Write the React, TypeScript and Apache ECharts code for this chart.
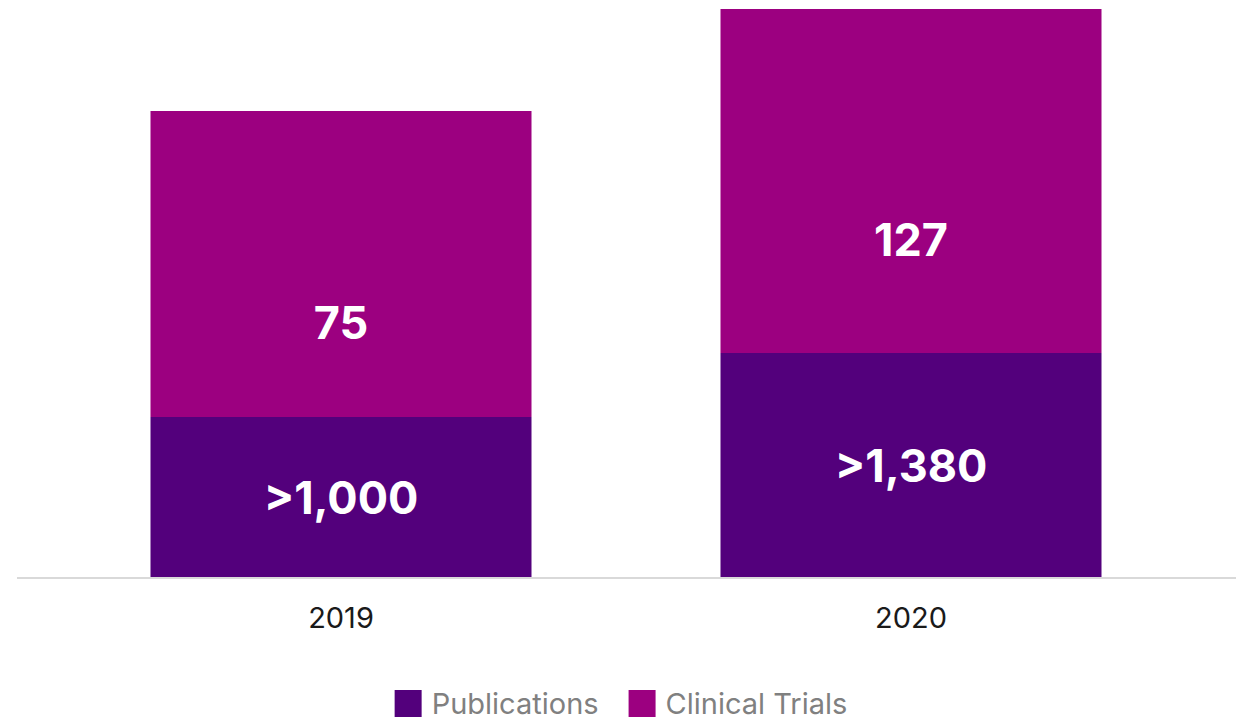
import React, { useEffect, useRef } from "react";
import * as echarts from "echarts";

const categories = ["2019", "2020"];
// Bar lengths as drawn in the reference (arbitrary display units)
const publicationsHeights = [161, 225];
const clinicalTrialsHeights = [306, 344];
// Labels shown on the bars
const publicationsLabels = [">1,000", ">1,380"];
const clinicalTrialsLabels = ["75", "127"];

const PUB_COLOR = "#53007c";
const CT_COLOR = "#9c0080";
const FONT = "Inter, Lato, sans-serif";

export default function App() {
  const ref = useRef<HTMLDivElement>(null);
  useEffect(() => {
    if (!ref.current) return;
    const chart = echarts.init(ref.current, undefined, { renderer: "svg" });
    chart.setOption({
      animation: false,
      grid: { left: 56, right: 46, top: 9, bottom: 142 },
      xAxis: {
        type: "category",
        data: categories,
        axisLine: { show: false },
        axisTick: { show: false },
        axisLabel: { color: "#1a1a1a", fontSize: 29, fontFamily: FONT, margin: 25 },
      },
      yAxis: {
        type: "value",
        min: 0,
        max: 569,
        show: false,
        splitLine: { show: false },
      },
      legend: {
        top: 684,
        left: "center",
        itemWidth: 27,
        itemHeight: 27,
        itemGap: 30,
        icon: "rect",
        textStyle: { color: "#808080", fontSize: 29, fontFamily: FONT, padding: [0, 0, 0, 5] },
        data: ["Publications", "Clinical Trials"],
      },
      graphic: [
        {
          type: "line",
          shape: { x1: 17, y1: 578, x2: 1236, y2: 578 },
          style: { stroke: "#d9d9d9", lineWidth: 2 },
          z: 10,
        },
      ],
      series: [
        {
          name: "Publications",
          type: "bar",
          stack: "total",
          barWidth: 381,
          itemStyle: { color: PUB_COLOR },
          data: publicationsHeights,
          label: {
            show: true,
            position: "inside",
            color: "#ffffff",
            fontSize: 45,
            fontWeight: "bold",
            fontFamily: FONT,
            formatter: (p: any) => publicationsLabels[p.dataIndex],
          },
        },
        {
          name: "Clinical Trials",
          type: "bar",
          stack: "total",
          barWidth: 381,
          itemStyle: { color: CT_COLOR },
          data: clinicalTrialsHeights,
          label: {
            show: true,
            position: "inside",
            offset: [0, 58],
            color: "#ffffff",
            fontSize: 45,
            fontWeight: "bold",
            fontFamily: FONT,
            formatter: (p: any) => clinicalTrialsLabels[p.dataIndex],
          },
        },
      ],
    });
    return () => chart.dispose();
  }, []);
  return <div ref={ref} style={{ width: 1242, height: 720, position: "absolute", left: 0, top: 0 }} />;
}
